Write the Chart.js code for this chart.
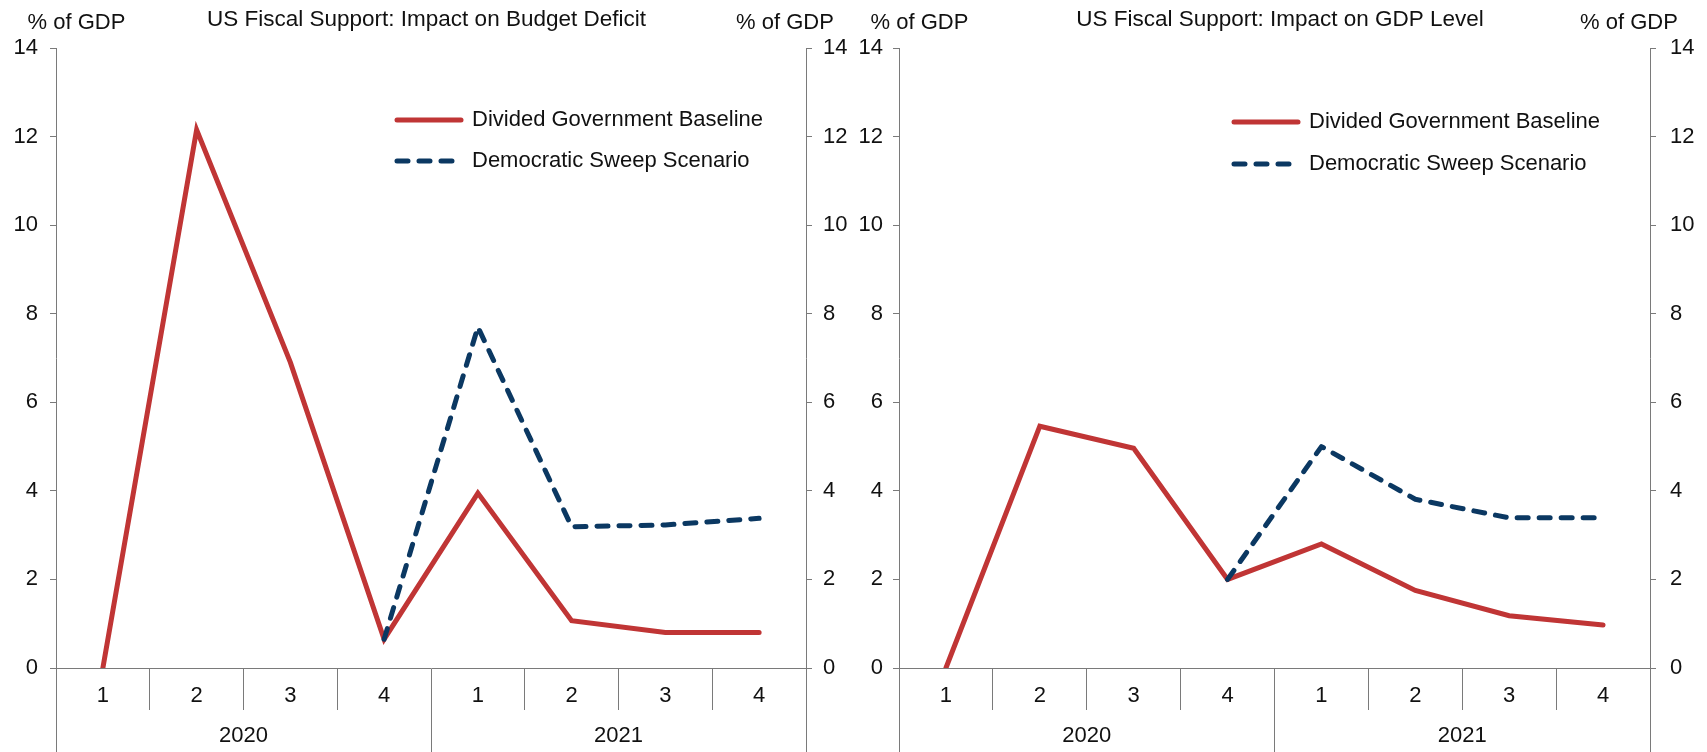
<!DOCTYPE html>
<html>
<head>
<meta charset="utf-8">
<script src="https://cdn.jsdelivr.net/npm/chart.js@4.4.1/dist/chart.umd.min.js"></script>
<style>
	html, body { margin: 0; padding: 0; background: #fff; }
	.painel { position: absolute; top: 0; height: 752px; }
	#painelDeficit { left: 0; width: 853px; }
	#painelPib { left: 853px; width: 854px; }
</style>
</head>
<body>
<div class="painel" id="painelDeficit"><canvas id="graficoDeficit" width="853" height="752"></canvas></div>
<div class="painel" id="painelPib"><canvas id="graficoPib" width="854" height="752"></canvas></div>
<script>
const trimestres = ['1', '2', '3', '4', '1', '2', '3', '4'];
const anos = ['2020', '2021'];
const nomesSeries = ['Divided Government Baseline', 'Democratic Sweep Scenario'];

const deficitDividido = [0, 12.15, 6.9, 0.65, 3.95, 1.07, 0.8, 0.8];
const deficitDemocrata = [null, null, null, 0.65, 7.7, 3.19, 3.23, 3.38];

const pibDividido = [0, 5.46, 4.96, 2.0, 2.8, 1.75, 1.18, 0.97];
const pibDemocrata = [null, null, null, 2.0, 5.0, 3.81, 3.39, 3.39];

const eixoMin = 0;
const eixoMax = 14;
const eixoPasso = 2;
const unidade = '% of GDP';

const corVermelha = '#C03535';
const corAzul = '#0B3862';
const corEixo = '#7a7a7a';
const fonte = '"Liberation Sans", Arial, sans-serif';

Chart.defaults.font.family = fonte;
Chart.defaults.font.size = 22;
Chart.defaults.color = '#111';

// legenda dentro da area do grafico, na posicao da figura original
const posicionaLegenda = {
	id: 'posicionaLegenda',
	afterLayout(chart, args, opts) {
		const lg = chart.legend;
		const pad = lg.options.labels.padding;
		lg.left = opts.x - pad;
		lg.top = opts.y - pad;
	},
};

// "% of GDP" acima dos dois eixos y
const rotulosUnidade = {
	id: 'rotulosUnidade',
	afterDraw(chart, args, opts) {
		const { ctx, scales } = chart;
		ctx.save();
		ctx.font = '22px ' + fonte;
		ctx.fillStyle = '#111';
		ctx.textAlign = 'center';
		ctx.textBaseline = 'middle';
		ctx.fillText(unidade, scales.y.right + opts.offsetEsq, opts.y);
		ctx.fillText(unidade, scales.y2.left - opts.offsetDir, opts.y);
		ctx.restore();
	},
};

// a amostra da legenda usa o tracejado da propria linha
function itensLegenda(chart) {
	const itens = Chart.defaults.plugins.legend.labels.generateLabels(chart);
	itens.forEach((it) => {
		const ds = chart.data.datasets[it.datasetIndex];
		it.lineDash = ds.borderDash || [];
		it.lineCap = 'round';
		it.lineWidth = ds.borderWidth;
		it.strokeStyle = ds.borderColor;
	});
	return itens;
}

function eixoY(posicao, largura, padding) {
	return {
		type: 'linear',
		position: posicao,
		min: eixoMin,
		max: eixoMax,
		ticks: {
			stepSize: eixoPasso,
			padding: padding,
			color: '#111',
			font: { size: 22 },
		},
		grid: {
			drawOnChartArea: false,
			tickLength: 6,
			color: corEixo,
		},
		border: { color: corEixo, width: 1 },
		afterFit(s) { s.width = largura; },
	};
}

function criaGrafico(id, titulo, dividido, democrata, cfg) {
	return new Chart(document.getElementById(id), {
		type: 'line',
		data: {
			labels: trimestres,
			datasets: [
				{
					label: nomesSeries[0],
					data: dividido,
					borderColor: corVermelha,
					backgroundColor: corVermelha,
					borderWidth: 5,
					borderJoinStyle: 'miter',
					borderCapStyle: 'round',
					pointRadius: 0,
					tension: 0,
					order: 1,
				},
				{
					label: nomesSeries[1],
					data: democrata,
					borderColor: corAzul,
					backgroundColor: corAzul,
					borderWidth: 5,
					borderDash: [11, 11],
					borderJoinStyle: 'round',
					borderCapStyle: 'round',
					pointRadius: 0,
					tension: 0,
					order: 0,
				},
			],
		},
		options: {
			responsive: false,
			animation: false,
			layout: { padding: 0 },
			plugins: {
				title: {
					display: true,
					text: titulo,
					color: '#111',
					font: { size: 22.5, weight: 'normal' },
					padding: { top: 6.5, bottom: 14.5 },
				},
				legend: {
					position: 'chartArea',
					align: 'start',
					labels: {
						usePointStyle: true,
						pointStyle: 'line',
						pointStyleWidth: 64,
						padding: cfg.legendaPasso - 22,
						color: '#111',
						font: { size: 22 },
						generateLabels: itensLegenda,
						sort: (a, b) => a.datasetIndex - b.datasetIndex,
					},
				},
				tooltip: { enabled: false },
				posicionaLegenda: { x: cfg.legendaX, y: cfg.legendaY },
				rotulosUnidade: { y: 23, offsetEsq: 20.5, offsetDir: 21 },
			},
			scales: {
				x: {
					type: 'category',
					position: 'bottom',
					offset: true,
					weight: 0,
					grid: {
						offset: true,
						drawOnChartArea: false,
						tickLength: 42,
						color: corEixo,
					},
					border: { color: corEixo, width: 1 },
					ticks: { padding: -27.2, color: '#111', font: { size: 22 }, maxRotation: 0 },
					afterFit(s) { s.height = 42; },
				},
				x2: {
					type: 'category',
					position: 'bottom',
					labels: anos,
					offset: true,
					weight: 1,
					grid: {
						offset: true,
						drawOnChartArea: false,
						tickLength: 42,
						color: corEixo,
					},
					border: { display: false },
					ticks: { padding: -29.2, color: '#111', font: { size: 22 }, maxRotation: 0 },
					afterFit(s) { s.height = 42; },
				},
				y: eixoY('left', cfg.esq, cfg.padEsq),
				y2: eixoY('right', cfg.dir, cfg.padDir),
			},
		},
		plugins: [posicionaLegenda, rotulosUnidade],
	});
}

criaGrafico('graficoDeficit', 'US Fiscal Support: Impact on Budget Deficit', deficitDividido, deficitDemocrata, {
	esq: 56, dir: 47, padEsq: 12, padDir: 11, legendaX: 397, legendaY: 109, legendaPasso: 41,
});

criaGrafico('graficoPib', 'US Fiscal Support: Impact on GDP Level', pibDividido, pibDemocrata, {
	esq: 46, dir: 57, padEsq: 10, padDir: 14, legendaX: 381, legendaY: 111, legendaPasso: 42,
});
</script>
</body>
</html>
